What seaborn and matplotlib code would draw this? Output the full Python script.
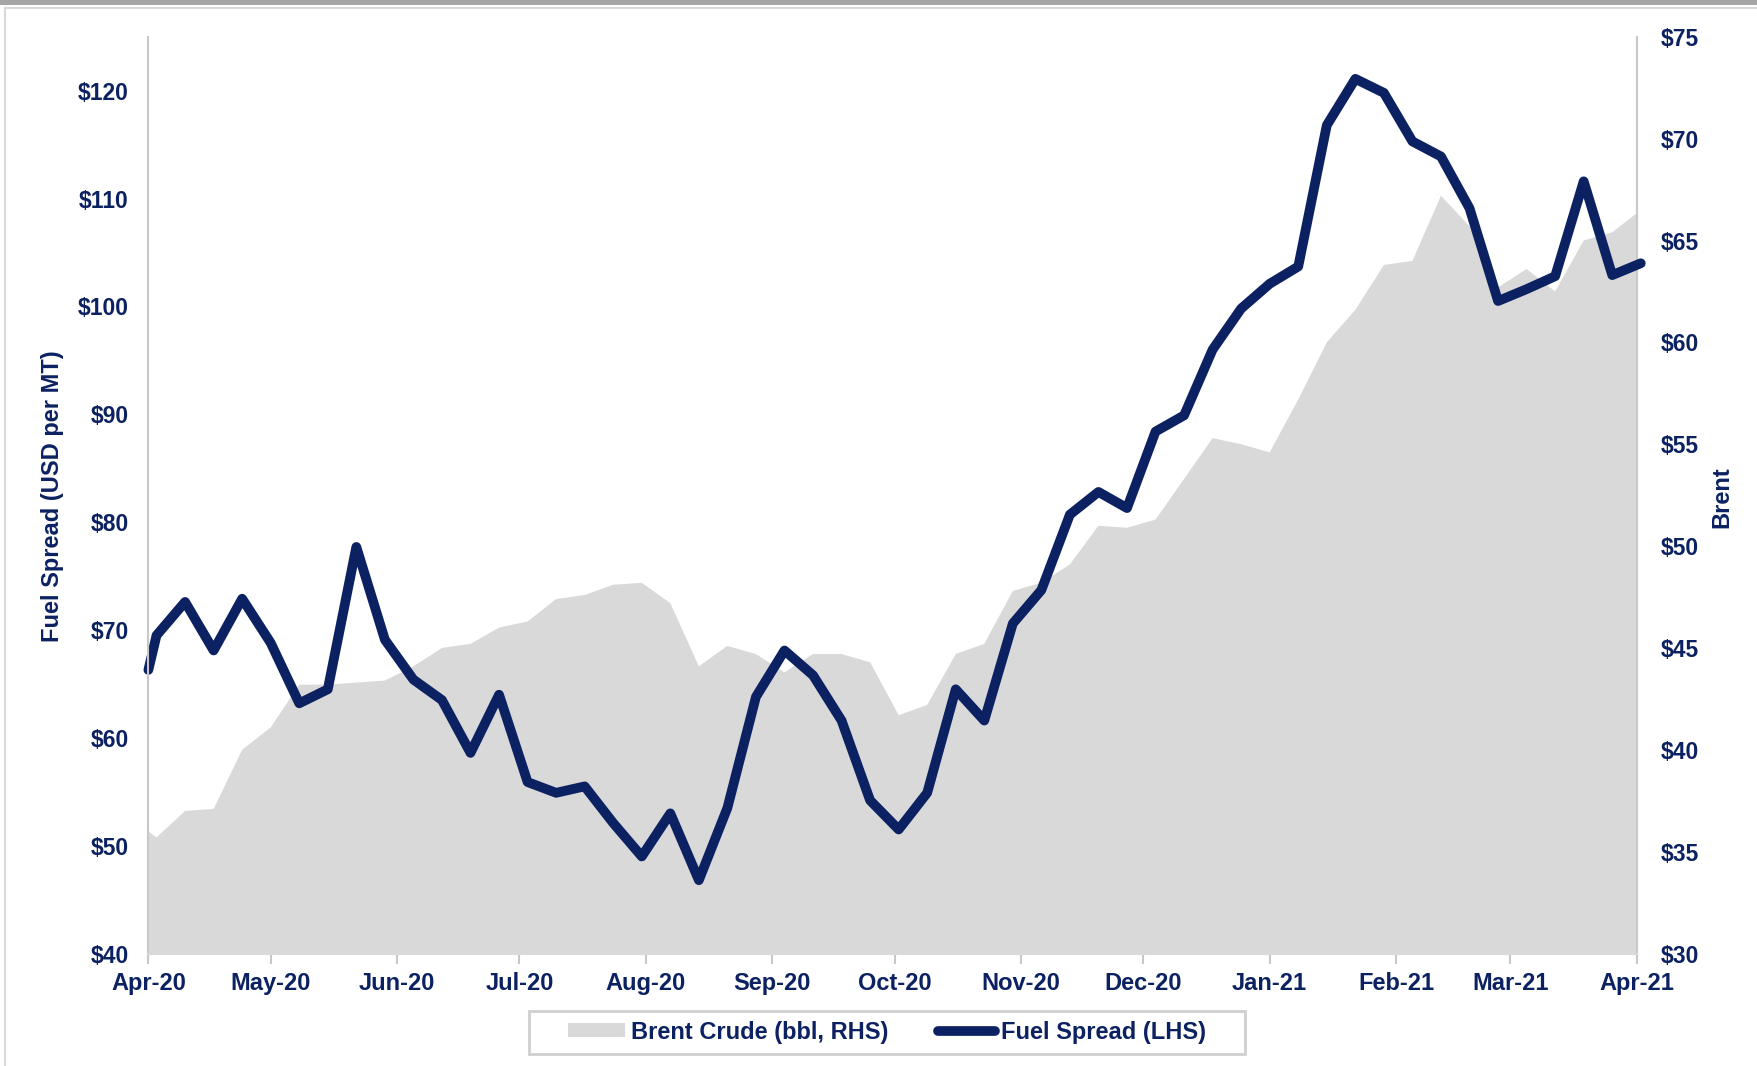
import matplotlib
matplotlib.use('Agg')
import matplotlib.pyplot as plt
import matplotlib.dates as mdates
from matplotlib.lines import Line2D
from matplotlib.patches import Patch, Rectangle
from matplotlib.ticker import FuncFormatter
import seaborn as sns
import pandas as pd

# Weekly (Friday) readings, first value read at the left edge of the axis
dates = ['2020-04-01'] + list(pd.date_range('2020-04-03', '2021-04-02', freq='7D').strftime('%Y-%m-%d'))

fuel_spread = [66.3, 69.5, 72.6, 68.1, 72.9, 68.8, 63.2, 64.5, 77.7, 69.1,
               65.4, 63.5, 58.6, 64.0, 55.9, 54.9, 55.5, 52.1, 49.0, 53.0,
               46.8, 53.5, 63.8, 68.1, 65.8, 61.6, 54.2, 51.5, 54.9, 64.5,
               61.6, 70.6, 73.7, 80.7, 82.8, 81.3, 88.4, 89.9, 96.0, 99.8,
               102.1, 103.7, 116.8, 121.1, 119.8, 115.3, 113.9, 109.1, 100.5, 101.6,
               102.8, 111.6, 102.9, 104.0]

brent = [36.0, 35.7, 37.0, 37.1, 40.0, 41.1, 43.2, 43.2, 43.3, 43.4,
         44.1, 45.0, 45.2, 46.0, 46.3, 47.4, 47.6, 48.1, 48.2, 47.2,
         44.1, 45.1, 44.7, 43.8, 44.7, 44.7, 44.3, 41.7, 42.2, 44.7,
         45.2, 47.8, 48.2, 49.1, 51.0, 50.9, 51.3, 53.3, 55.3, 55.0,
         54.6, 57.2, 60.0, 61.6, 63.8, 64.0, 67.2, 65.7, 62.7, 63.6,
         62.5, 65.0, 65.4, 66.5]

left_ticks = [40, 50, 60, 70, 80, 90, 100, 110, 120]
right_ticks = [30, 35, 40, 45, 50, 55, 60, 65, 70, 75]

legend_labels = ['Brent Crude (bbl, RHS)', 'Fuel Spread (LHS)']

navy = '#0b2161'
fill_grey = '#d9d9d9'
axis_grey = '#c8c8c8'

sns.set_theme(style='white')
plt.rcParams['font.family'] = ['Liberation Sans', 'DejaVu Sans']
plt.rcParams['font.weight'] = 'bold'

df = pd.DataFrame({'date': pd.to_datetime(dates), 'fuel': fuel_spread, 'brent': brent})

W, H = 1758, 1066
fig = plt.figure(figsize=(W / 100, H / 100), dpi=100)
ax = fig.add_axes([0.0844, 0.1055, 0.8466, 0.86])
ax2 = ax.twinx()

# Brent area on the right-hand axis
ax2.fill_between(df['date'], 0, df['brent'], color=fill_grey, lw=0)

# Fuel spread line on the left-hand axis, drawn above the area
sns.lineplot(data=df, x='date', y='fuel', ax=ax, color=navy, lw=7,
             solid_capstyle='round', clip_on=False, legend=False)
ax.set_zorder(ax2.get_zorder() + 1)
ax.patch.set_visible(False)

ax.set_xlim(pd.Timestamp('2020-04-01'), pd.Timestamp('2021-04-01'))
ax.set_ylim(40, 125)
ax2.set_ylim(30, 75)
ax.set_yticks(left_ticks)
ax2.set_yticks(right_ticks)

dollar = FuncFormatter(lambda v, p: f'${v:.0f}')
ax.yaxis.set_major_formatter(dollar)
ax2.yaxis.set_major_formatter(dollar)
ax.xaxis.set_major_locator(mdates.MonthLocator())
ax.xaxis.set_major_formatter(mdates.DateFormatter('%b-%y'))

ax.set_xlabel('')
ax.set_ylabel('')
ax2.set_ylabel('')

ax.tick_params(axis='x', labelsize=17, labelcolor=navy, color=axis_grey,
               length=7, width=1.5, pad=6, bottom=True)
ax.tick_params(axis='y', labelsize=16.5, labelcolor=navy, length=0, pad=14)
ax2.tick_params(axis='y', labelsize=16.5, labelcolor=navy, length=0, pad=17)
for lab in ax.get_xticklabels() + ax.get_yticklabels() + ax2.get_yticklabels():
    lab.set_fontweight('bold')

for a in (ax, ax2):
    a.spines['top'].set_visible(False)
    a.grid(False)
ax.spines['right'].set_visible(False)
ax.spines['left'].set_color(axis_grey)
ax.spines['left'].set_linewidth(1.5)
ax.spines['bottom'].set_color(fill_grey)
ax.spines['bottom'].set_linewidth(1.5)
ax2.spines['left'].set_visible(False)
ax2.spines['bottom'].set_visible(False)
ax2.spines['right'].set_color(axis_grey)
ax2.spines['right'].set_linewidth(1.5)

fig.text(52.7 / W, 1 - 496 / H, 'Fuel Spread (USD per MT)', rotation=90,
         ha='center', va='center', fontsize=17, color=navy, fontweight='bold')
fig.text(1722 / W, 1 - 497 / H, 'Brent', rotation=90,
         ha='center', va='center', fontsize=17, color=navy, fontweight='bold')

# legend with a wide light box around it
fig.add_artist(Rectangle((529 / W, 1 - 1054 / H), (1245 - 529) / W, 43 / H,
                         transform=fig.transFigure, facecolor='white',
                         edgecolor='#cfcfcf', lw=2))
handles = [Patch(facecolor=fill_grey, edgecolor='none'),
           Line2D([], [], color=navy, lw=7, solid_capstyle='round')]
fig.legend(handles, legend_labels, loc='center',
           bbox_to_anchor=(887 / W, 1 - 1032 / H), ncol=2, frameon=False,
           prop={'size': 17, 'weight': 'bold'}, labelcolor=navy,
           handlelength=2.4, handleheight=0.55, handletextpad=0.25,
           columnspacing=2.1, borderpad=0.35)

# chart frame decoration
fig.add_artist(Rectangle((0, 1 - 5 / H), 1, 5 / H, transform=fig.transFigure,
                         color='#a6a6a6', lw=0))
fig.add_artist(Line2D([5 / W, 1], [1 - 8 / H, 1 - 8 / H],
                      transform=fig.transFigure, color='#d9d9d9', lw=1.5))
fig.add_artist(Line2D([5 / W, 5 / W], [0, 1 - 8 / H],
                      transform=fig.transFigure, color='#d9d9d9', lw=1.5))

fig.savefig('out.png', dpi=100)
